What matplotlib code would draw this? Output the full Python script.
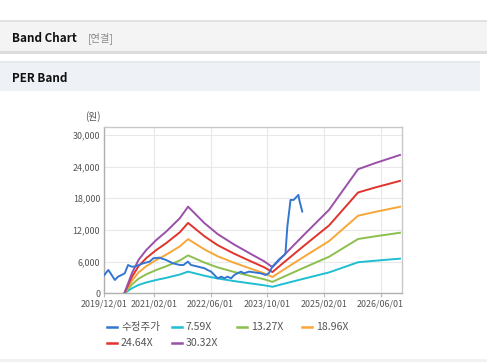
import matplotlib
matplotlib.use('Agg')
import matplotlib.pyplot as plt
import matplotlib.dates as mdates
from matplotlib.patches import Rectangle
from matplotlib.lines import Line2D
from matplotlib.ticker import FuncFormatter
import pandas as pd

plt.rcParams['font.family'] = ['Noto Sans CJK KR', 'DejaVu Sans']

# 수정주가 (adjusted price)
price_dates = ['2019-12-01', '2020-01-05', '2020-03-01', '2020-03-28', '2020-04-28', '2020-05-25',
               '2020-06-22', '2020-07-22', '2020-08-18', '2020-11-01', '2020-12-25', '2021-01-25',
               '2021-03-18', '2021-05-15', '2021-07-12', '2021-09-10', '2021-10-12', '2021-11-18',
               '2021-12-15', '2022-02-12', '2022-04-10', '2022-05-06', '2022-06-06', '2022-07-04',
               '2022-08-01', '2022-09-01', '2022-09-28', '2022-10-25', '2022-11-25', '2022-12-22',
               '2023-01-18', '2023-02-18', '2023-03-15', '2023-04-28', '2023-08-06', '2023-09-18',
               '2023-10-15', '2023-11-15', '2024-01-12', '2024-02-25', '2024-03-06', '2024-03-22',
               '2024-04-10', '2024-04-18', '2024-05-15', '2024-06-25', '2024-07-06', '2024-07-28']
price = [3470, 4420, 2520, 3150, 3470, 3790,
         5360, 5050, 5050, 5690, 6000, 6630,
         6750, 6310, 5690, 5360, 5360, 6000,
         5360, 5050, 4740, 4420, 4100, 3470,
         2840, 3150, 2840, 3150, 2840, 3470,
         3790, 4100, 3790, 4100, 3790, 3470,
         3790, 5050, 6440, 7260, 7580, 12630,
         16120, 17680, 17680, 18630, 17380, 15480]

# PER band lines
band_dates = ['2020-05-25', '2020-07-25', '2020-09-20', '2020-11-25', '2021-02-20', '2021-05-15',
              '2021-09-10', '2021-11-20', '2022-04-10', '2022-08-01', '2022-12-20', '2023-05-15',
              '2023-09-05', '2023-11-15', '2024-02-10', '2024-08-25', '2025-03-15', '2025-11-20',
              '2026-04-15', '2026-11-15']
band_759 = [53, 949, 1579, 2049, 2527, 2922, 3560, 4106, 3324, 2808,
            2315, 1860, 1518, 1237, 1738, 2846, 3954, 5882, 6171, 6558]
band_1327 = [93, 1659, 2760, 3583, 4419, 5109, 6224, 7179, 5812, 4910,
             4047, 3251, 2654, 2163, 3039, 4976, 6914, 10284, 10789, 11465]
band_1896 = [133, 2370, 3944, 5119, 6314, 7300, 8892, 10257, 8304, 7015,
             5783, 4645, 3792, 3090, 4342, 7110, 9878, 14694, 15414, 16381]
band_2464 = [172, 3080, 5125, 6653, 8205, 9486, 11556, 13330, 10792, 9117,
             7515, 6037, 4928, 4016, 5643, 9240, 12837, 19096, 20032, 21289]
band_3032 = [212, 3790, 6307, 8186, 10097, 11673, 14220, 16403, 13280, 11218,
             9248, 7428, 6064, 4942, 6943, 11370, 15797, 23498, 24650, 26196]

band_labels = ['7.59X', '13.27X', '18.96X', '24.64X', '30.32X']
band_colors = ['#1fbfd2', '#8dbf4e', '#f8a637', '#e1332c', '#9a4fa9']
x_ticks = ['2019-12-01', '2021-02-01', '2022-06-01', '2023-10-01', '2025-02-01', '2026-06-01']
y_ticks = [0, 6000, 12000, 18000, 24000, 30000]

W, H = 487, 362
fig = plt.figure(figsize=(W / 100, H / 100), dpi=100)

# header boxes (pixel coords -> figure coords)
def box(x0, y0, x1, y1, color):
    fig.patches.append(Rectangle((x0 / W, 1 - y1 / H), (x1 - x0) / W, (y1 - y0) / H,
                                 transform=fig.transFigure, facecolor=color, edgecolor='none', zorder=0))

box(0, 20, W, 22, '#e2e2e2')
box(0, 22, W, 51, '#f4f4f4')
box(0, 51, W, 53.5, '#dcdcdc')
box(0, 61, 480, 63, '#e6e8ec')
box(0, 63, 480, 91, '#eef1f6')
box(0, 359, W, H, '#f2f2f2')

fig.text(12 / W, 1 - 38.5 / H, 'Band Chart', fontsize=8.4, fontweight='bold', color='#111111', va='center')
fig.text(88 / W, 1 - 38.5 / H, '[연결]', fontsize=7.4, color='#8a8a8a', va='center')
fig.text(12 / W, 1 - 78 / H, 'PER Band', fontsize=8.4, fontweight='bold', color='#111111', va='center')
fig.text(93 / W, 1 - 116.5 / H, '(원)', fontsize=7, color='#555555', ha='center', va='center')

ax = fig.add_axes([104.3 / W, 1 - 293.3 / H, 298 / W, 166.6 / H])

pd_price = pd.to_datetime(price_dates)
pd_band = pd.to_datetime(band_dates)
bands = [band_759, band_1327, band_1896, band_2464, band_3032]

lines = ax.plot(pd_price, price, color='#3377d0', lw=1.4, label='수정주가', zorder=4)
for vals, lab, col in zip(bands, band_labels, band_colors):
    lines += ax.plot(pd_band, vals, color=col, lw=1.4, label=lab, zorder=3)

ax.set_xlim(pd.Timestamp('2019-12-01'), pd.Timestamp('2026-12-05'))
ax.set_ylim(0, 31550)
ax.set_xticks(pd.to_datetime(x_ticks))
ax.xaxis.set_major_formatter(mdates.DateFormatter('%Y/%m/%d'))
ax.set_yticks(y_ticks)
ax.yaxis.set_major_formatter(FuncFormatter(lambda v, p: '{:,.0f}'.format(v)))
ax.tick_params(axis='both', labelsize=6.4, colors='#555555', length=0, pad=3)
ax.tick_params(axis='x', length=3, color='#bbbbbb', pad=1.5)
ax.grid(True, color='#e8e8e8', lw=0.8)
ax.set_axisbelow(True)
for s in ['top', 'right']:
    ax.spines[s].set_color('#c8c8c8')
for s in ['left', 'bottom']:
    ax.spines[s].set_color('#b0b0b0')
for s in ax.spines.values():
    s.set_linewidth(1.0)

# legend: fixed-width columns, 4 per row
for i, ln in enumerate(lines):
    lx = 107 + 65 * (i % 4)
    ly = 327 + 16 * (i // 4)
    fig.add_artist(Line2D([lx / W, (lx + 10) / W], [1 - ly / H, 1 - ly / H],
                          color=ln.get_color(), lw=1.8, transform=fig.transFigure))
    fig.text((lx + 14) / W, 1 - ly / H, ln.get_label(), fontsize=7.6, color='#555555', va='center')

fig.savefig('out.png', dpi=100)
